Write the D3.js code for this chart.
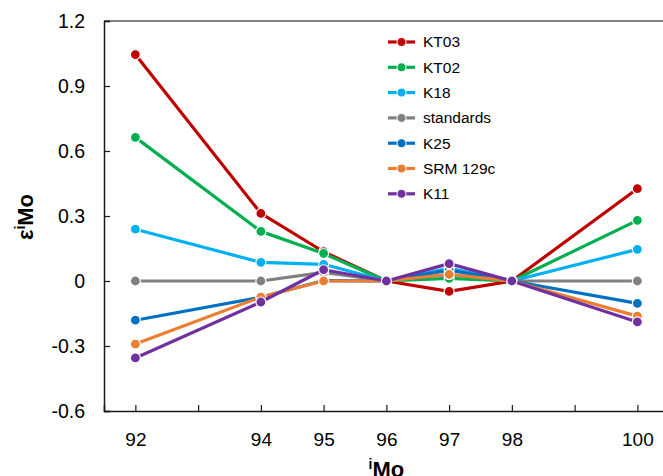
<!DOCTYPE html>
<html>
<head>
<meta charset="utf-8">
<script src="https://cdn.jsdelivr.net/npm/d3@7"></script>
<style>
  body { margin: 0; background: #fff; }
  svg { display: block; font-family: "Liberation Sans", Arial, sans-serif; }
</style>
</head>
<body>
<div id="chart"></div>
<script>
const width = 663,
    height = 476;

// isotopes on the x axis
const isotopes = [92, 94, 95, 96, 97, 98, 100];
const seriesNames = ["KT03", "KT02", "K18", "standards", "K25", "SRM 129c", "K11"];
const seriesColors = ["#C00000", "#00B050", "#00B0F0", "#808080", "#0070C0", "#ED7D31", "#7030A0"];

// epsilon values, one array per sample
const kt03 = [1.045, 0.312, 0.135, 0, -0.048, 0, 0.426];
const kt02 = [0.663, 0.229, 0.127, 0, 0.012, 0, 0.280];
const k18 = [0.239, 0.086, 0.077, 0, 0.058, 0, 0.146];
const standards = [0, 0, 0.040, 0, 0.030, 0, 0];
const k25 = [-0.181, -0.075, 0.002, 0, 0.050, 0, -0.103];
const srm129c = [-0.291, -0.074, 0, 0, 0.031, 0, -0.162];
const k11 = [-0.355, -0.097, 0.052, 0, 0.080, 0, -0.189];
const seriesValues = [kt03, kt02, k18, standards, k25, srm129c, k11];

const yTicks = [-0.6, -0.3, 0, 0.3, 0.6, 0.9, 1.2];
const xTicks = [92, 93, 94, 95, 96, 97, 98, 99, 100];

const margin = {top: 21, left: 104, bottom: 65};

const svg = d3.select('#chart').append('svg')
    .attr('width', width)
    .attr('height', height);

const x = d3.scaleLinear()
    .domain([91.5, 100.5])
    .range([margin.left, margin.left + 9 * 62.75]);

const y = d3.scaleLinear()
    .domain([-0.6, 1.2])
    .range([height - margin.bottom, margin.top]);

// top frame line
svg.append("line")
    .attr("x1", x(91.5)).attr("x2", x(100.5))
    .attr("y1", y(1.2)).attr("y2", y(1.2))
    .style("stroke", "#7f7f7f")
    .style("stroke-width", 2);

// y axis, ticks pointing inward
const yAxis = svg.append("g")
    .attr("transform", `translate(${x(91.5)},0)`)
    .call(d3.axisRight(y).tickValues(yTicks).tickSize(6)
        .tickFormat(d => d === 0 ? "0" : d3.format(".1f")(d).replace("−", "-")));
yAxis.selectAll("text")
    .attr("x", -19)
    .attr("text-anchor", "end")
    .style("font-size", "19.5px")
    .style("fill", "#000");

// x axis, ticks pointing inward, labels only at data isotopes
const xAxis = svg.append("g")
    .attr("transform", `translate(0,${y(-0.6)})`)
    .call(d3.axisTop(x).tickValues(xTicks).tickSize(6)
        .tickFormat(d => isotopes.includes(d) ? d : ""));
xAxis.selectAll("text")
    .attr("y", 22)
    .attr("dy", "0.71em")
    .style("font-size", "19px")
    .style("fill", "#000");

[yAxis, xAxis].forEach(a => {
    a.select(".domain").style("stroke", "#1a1a1a").style("stroke-width", 1.5);
    a.selectAll(".tick line").style("stroke", "#1a1a1a").style("stroke-width", 1.2);
});

// axis titles (superscript i shifted up, then back down)
const yTitle = svg.append("text")
    .attr("transform", `translate(33,${y(0.3) + 1}) rotate(-90)`)
    .attr("text-anchor", "middle")
    .style("font-size", "22px")
    .style("font-weight", "bold");
yTitle.append("tspan").text("ε");
yTitle.append("tspan").attr("dy", -8).style("font-size", "14px").text("i");
yTitle.append("tspan").attr("dy", 8).text("Mo");

const xTitle = svg.append("text")
    .attr("x", x(96))
    .attr("y", 477)
    .attr("text-anchor", "middle")
    .style("font-size", "22px")
    .style("font-weight", "bold");
xTitle.append("tspan").attr("dy", -8).style("font-size", "14px").text("i");
xTitle.append("tspan").attr("dy", 8).text("Mo");

// lines and markers
const line = d3.line()
    .x((d, i) => x(isotopes[i]))
    .y(d => y(d));

const series = svg.append("g")
    .selectAll("g")
    .data(seriesValues)
    .enter()
    .append("g");

series.append("path")
    .attr("d", d => line(d))
    .attr("fill", "none")
    .style("stroke", (d, i) => seriesColors[i])
    .style("stroke-width", 3.2)
    .style("stroke-linejoin", "round");

series.each(function (vals, si) {
    d3.select(this).selectAll("circle")
        .data(vals)
        .enter()
        .append("circle")
        .attr("cx", (d, i) => x(isotopes[i]))
        .attr("cy", d => y(d))
        .attr("r", 5)
        .attr("fill", seriesColors[si])
        .style("stroke", "white")
        .style("stroke-width", 1.2);
});

// legend
const legend = svg.append("g")
    .selectAll("g")
    .data(seriesNames)
    .enter()
    .append("g")
    .attr("transform", (d, i) => `translate(388,${42 + i * 25.3})`);

legend.append("line")
    .attr("x1", 0).attr("x2", 27)
    .style("stroke", (d, i) => seriesColors[i])
    .style("stroke-width", 3.2);

legend.append("circle")
    .attr("cx", 13.5)
    .attr("r", 4.5)
    .attr("fill", (d, i) => seriesColors[i])
    .style("stroke", "white")
    .style("stroke-width", 1);

legend.append("text")
    .attr("x", 35)
    .attr("dy", "0.35em")
    .style("font-size", "15.5px")
    .text(d => d);
</script>
</body>
</html>
